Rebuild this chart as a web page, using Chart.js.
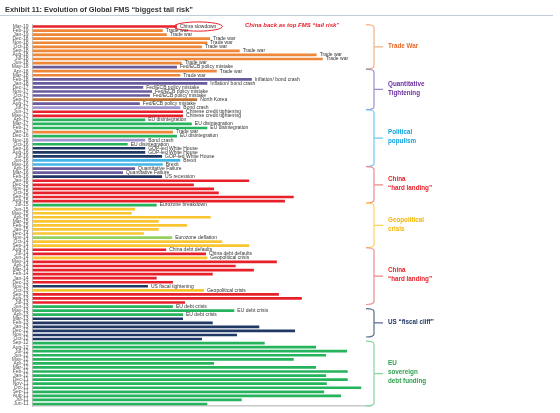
<!DOCTYPE html>
<html>
<head>
<meta charset="utf-8">
<script src="https://cdn.jsdelivr.net/npm/chart.js@4.4.1/dist/chart.umd.min.js"></script>
<style>
  html, body { margin: 0; padding: 0; background: #fff; }
  #wrap { width: 560px; height: 413px; position: relative; }
</style>
</head>
<body>
<div id="wrap"><canvas id="fmsChart"></canvas></div>
<script>
/* ============================================================
   Data - top tail risk per survey month (latest first)
   ============================================================ */
const months = [
  'Mar-19','Feb-19','Jan-19','Dec-18','Nov-18','Oct-18','Sep-18','Aug-18','Jul-18','Jun-18',
  'May-18','Apr-18','Mar-18','Feb-18','Jan-18','Dec-17','Nov-17','Oct-17','Sep-17','Aug-17',
  'Jul-17','Jun-17','May-17','Apr-17','Mar-17','Feb-17','Jan-17','Dec-16','Nov-16','Oct-16',
  'Sep-16','Aug-16','Jul-16','Jun-16','May-16','Apr-16','Mar-16','Feb-16','Jan-16','Dec-15',
  'Nov-15','Oct-15','Sep-15','Aug-15','Jul-15','Jun-15','May-15','Apr-15','Mar-15','Feb-15',
  'Jan-15','Dec-14','Nov-14','Oct-14','Sep-14','Aug-14','Jul-14','Jun-14','May-14','Apr-14',
  'Mar-14','Feb-14','Jan-14','Dec-13','Nov-13','Oct-13','Sep-13','Aug-13','Jul-13','Jun-13',
  'May-13','Apr-13','Mar-13','Feb-13','Jan-13','Dec-12','Nov-12','Oct-12','Sep-12','Aug-12',
  'Jul-12','Jun-12','May-12','Apr-12','Mar-12','Feb-12','Jan-12','Dec-11','Nov-11','Oct-11',
  'Sep-11','Aug-11','Jul-11','Jun-11'
];

// % of respondents naming the top risk
const topRiskPct = [
  21.4, 19.3, 19.9, 26.3, 25.9, 25.1, 30.7, 42.1, 43.0, 22.1,
  21.4, 27.3, 21.9, 32.5, 25.9, 16.4, 17.7, 17.4, 24.4, 15.9,
  21.9, 22.3, 22.3, 16.7, 23.6, 25.9, 20.8, 21.4, 16.7, 14.1,
  16.7, 16.7, 19.2, 21.9, 19.3, 15.2, 13.4, 19.2, 32.1, 23.9,
  26.9, 27.6, 38.7, 37.4, 18.4, 15.2, 14.7, 26.4, 18.7, 22.9,
  18.7, 16.5, 20.7, 28.1, 32.1, 19.8, 25.7, 25.9, 36.2, 30.1,
  32.8, 26.7, 18.4, 20.8, 17.1, 25.4, 36.5, 39.9, 22.6, 20.8,
  29.9, 22.3, 22.3, 26.7, 33.6, 38.9, 30.3, 25.1, 34.4, 42.0,
  46.6, 43.5, 38.7, 26.9, 42.0, 46.7, 43.5, 46.7, 43.6, 48.7,
  43.2, 45.7, 31.0, 25.9
];

// theme of each month's top risk
const themes = [
  'CN','TW','TW','TW','TW','TW','TW','TW','TW','TW',
  'FED','TW','TW','FED','FED','FED','FED','FED','NK','FED',
  'BOND','CN','CN','EU','EU','EU','TW','EU','BOND','EU',
  'US','US','US','BRX','BRX','FED','FED','US','CN','CN',
  'CN','CN','CN','CN','EU','GEO','GEO','GEO','GEO','GEO',
  'GEO','GEO','DEF','GEO','GEO','CN','CN','GEO','CN','CN',
  'CN','CN','CN','CN','US','GEO','CN','CN','CN','EU',
  'EU','EU','US','US','US','US','US','US','EU','EU',
  'EU','EU','EU','EU','EU','EU','EU','EU','EU','EU',
  'EU','EU','EU','EU'
];

// text printed next to some bars (index -> label)
const barNotes = {
  0: 'China slowdown', 1: 'Trade war', 2: 'Trade war', 3: 'Trade war', 4: 'Trade war',
  5: 'Trade war', 6: 'Trade war', 7: 'Trade war', 8: 'Trade war', 9: 'Trade war',
  10: 'Fed/ECB policy mistake', 11: 'Trade war', 12: 'Trade war',
  13: 'Inflation/ bond crash', 14: 'Inflation/ bond crash',
  15: 'Fed/ECB policy mistake', 16: 'Fed/ECB policy mistake', 17: 'Fed/ECB policy mistake',
  18: 'North Korea', 19: 'Fed/ECB policy mistake', 20: 'Bond crash',
  21: 'Chinese credit tightening', 22: 'Chinese credit tightening',
  23: 'EU disintegration', 24: 'EU disintegration', 25: 'EU disintegration',
  26: 'Trade war', 27: 'EU disintegration', 28: 'Bond crash', 29: 'EU disintegration',
  30: 'GOP-led White House', 31: 'GOP-led White House', 32: 'GOP-led White House',
  33: 'Brexit', 34: 'Brexit', 35: 'Quantitative Failure', 36: 'Quantitative Failure',
  37: 'US recession', 44: 'Eurozone breakdown', 52: 'Eurozone deflation',
  55: 'China debt defaults', 56: 'China debt defaults', 57: 'Geopolitical crisis',
  64: 'US fiscal tightening', 65: 'Geopolitical crisis',
  69: 'EU debt crisis', 70: 'EU debt crisis', 71: 'EU debt crisis'
};

// regimes shown with braces on the right (bar index ranges)
const regimes = [
  { name: ['Trade War'], from: 0, to: 10 },
  { name: ['Quantitative', 'Tightening'], from: 11, to: 20 },
  { name: ['Political', 'populism'], from: 21, to: 34 },
  { name: ['China', '\u201chard landing\u201d'], from: 35, to: 43 },
  { name: ['Geopolitical', 'crisis'], from: 44, to: 54 },
  { name: ['China', '\u201chard landing\u201d'], from: 55, to: 68 },
  { name: ['US \u201cfiscal cliff\u201d'], from: 70, to: 76 },
  { name: ['EU', 'sovereign', 'debt funding'], from: 78, to: 93 }
];

/* ============================================================
   Styles
   ============================================================ */
const themeColors = {
  CN: '#e8202a', TW: '#ee8838', FED: '#6a5b9c', BOND: '#a194cf', NK: '#bf7433',
  EU: '#25b35c', US: '#1f3864', BRX: '#43b6e8', GEO: '#f9c630', DEF: '#94d160'
};

const regimeStyles = [
  { line: '#f4b183', text: '#e66b2c' },
  { line: '#9d8cc9', text: '#6b2f9e' },
  { line: '#6cc8ef', text: '#0ea3dd' },
  { line: '#f08a8a', text: '#e8202a' },
  { line: '#ffd35c', text: '#f4b400' },
  { line: '#f08a8a', text: '#e8202a' },
  { line: '#5a6c8c', text: '#1f3864' },
  { line: '#86d6a0', text: '#2e9e4f' }
];

const FONT = '"Liberation Sans", Arial, sans-serif';

/* ============================================================
   Overlay: title, bar notes, braces
   ============================================================ */
const overlay = {
  id: 'overlay',
  afterDatasetsDraw(chart) {
    const ctx = chart.ctx;
    const meta = chart.getDatasetMeta(0);

    ctx.save();
    ctx.font = '5px ' + FONT;
    ctx.fillStyle = '#333';
    ctx.textBaseline = 'middle';
    Object.entries(barNotes).forEach(([i, txt]) => {
      const bar = meta.data[i];
      ctx.fillText(txt, bar.x + 3, bar.y);
    });

    // red oval round the latest label
    const first = meta.data[0];
    const w0 = ctx.measureText(barNotes[0]).width;
    ctx.strokeStyle = '#e8202a';
    ctx.lineWidth = 1;
    ctx.beginPath();
    ctx.ellipse(first.x + 3 + w0 / 2, first.y, w0 / 2 + 6, 4.6, 0, 0, Math.PI * 2);
    ctx.stroke();
    ctx.restore();
  },
  afterDraw(chart) {
    const ctx = chart.ctx;
    const y = chart.scales.y;

    ctx.save();
    // title
    ctx.fillStyle = '#333';
    ctx.textBaseline = 'middle';
    ctx.font = 'bold 8px ' + FONT;
    ctx.fillText('Exhibit 11: Evolution of Global FMS \u201cbiggest tail risk\u201d', 5, 9.5, 188);
    ctx.strokeStyle = '#c3ccd9';
    ctx.lineWidth = 1;
    ctx.beginPath();
    ctx.moveTo(0, 15.5);
    ctx.lineTo(553, 15.5);
    ctx.stroke();

    // red callout
    ctx.fillStyle = '#e8202a';
    ctx.font = 'italic bold 6px ' + FONT;
    ctx.fillText('China back as top FMS \u201ctail risk\u201d', 245, 25.5);

    // braces
    const xL = 366, xV = 374, xT = 383, r = 3;
    regimes.forEach((g, k) => {
      const st = regimeStyles[k];
      const y1 = y.getPixelForValue(g.from) - 2;
      const y2 = y.getPixelForValue(g.to) + 2;
      const ym = (y1 + y2) / 2;
      ctx.strokeStyle = st.line;
      ctx.lineWidth = 1.2;
      ctx.beginPath();
      ctx.moveTo(xL, y1);
      ctx.quadraticCurveTo(xV, y1, xV, y1 + r);
      ctx.lineTo(xV, y2 - r);
      ctx.quadraticCurveTo(xV, y2, xL, y2);
      ctx.moveTo(xV, ym);
      ctx.lineTo(xT, ym);
      ctx.stroke();

      ctx.fillStyle = st.text;
      ctx.font = 'bold 6.3px ' + FONT;
      const lh = 9;
      const top = ym - 1 - (g.name.length - 1) * lh / 2;
      g.name.forEach((line, j) => ctx.fillText(line, 388, top + j * lh));
    });
    ctx.restore();
  }
};

/* ============================================================
   Chart
   ============================================================ */
const ctx = document.getElementById('fmsChart').getContext('2d');
new Chart(ctx, {
  type: 'bar',
  data: {
    labels: months,
    datasets: [{
      data: topRiskPct,
      backgroundColor: themes.map(t => themeColors[t]),
      borderWidth: 0,
      barPercentage: 0.66,
      categoryPercentage: 1
    }]
  },
  options: {
    indexAxis: 'y',
    responsive: true,
    maintainAspectRatio: false,
    animation: false,
    layout: { padding: { top: 24.5, bottom: 4.3, left: 0, right: 190 } },
    plugins: { legend: { display: false }, tooltip: { enabled: false } },
    scales: {
      x: {
        min: 0, max: 50,
        grid: { display: false },
        ticks: { display: false },
        border: { color: '#c8c8c8', width: 1.5 },
        afterFit(scale) { scale.height = 0; }
      },
      y: {
        grid: { display: false, drawTicks: false },
        border: { color: '#c4c4c4', width: 1 },
        ticks: {
          autoSkip: false,
          padding: 4,
          color: '#555',
          font: { family: FONT, size: 5 }
        },
        afterFit(scale) { scale.width = 32.5; }
      }
    }
  },
  plugins: [overlay]
});
</script>
</body>
</html>
